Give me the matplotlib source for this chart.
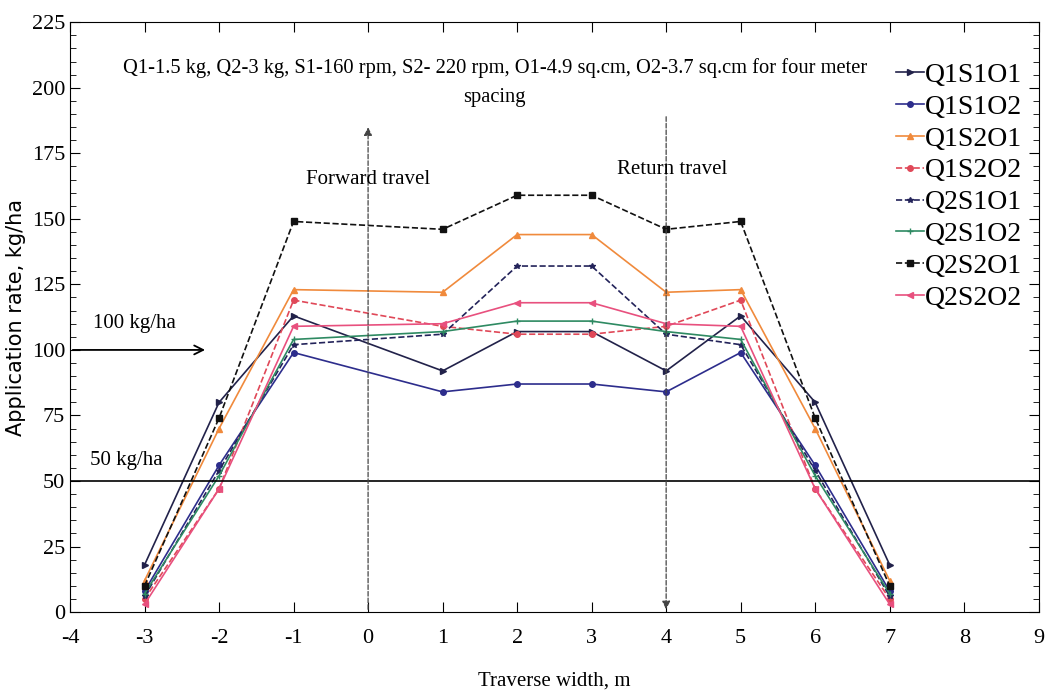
import matplotlib
matplotlib.use('Agg')
import matplotlib.pyplot as plt
from matplotlib.ticker import MultipleLocator

plt.rcParams['font.family'] = 'Liberation Serif'
plt.rcParams['axes.unicode_minus'] = False

# traverse positions (m) and application rate (kg/ha)
x = [-3, -2, -1, 1, 2, 3, 4, 5, 6, 7]
q1s1o1 = [18, 80, 113, 92, 107, 107, 92, 113, 80, 18]
q1s1o2 = [8, 56, 99, 84, 87, 87, 84, 99, 56, 8]
q1s2o1 = [12, 70, 123, 122, 144, 144, 122, 123, 70, 12]
q1s2o2 = [5, 47, 119, 109, 106, 106, 109, 119, 47, 5]
q2s1o1 = [6, 54, 102, 106, 132, 132, 106, 102, 54, 6]
q2s1o2 = [7, 52, 104, 107, 111, 111, 107, 104, 52, 7]
q2s2o1 = [10, 74, 149, 146, 159, 159, 146, 149, 74, 10]
q2s2o2 = [3, 47, 109, 110, 118, 118, 110, 109, 47, 3]

names = ['Q1S1O1', 'Q1S1O2', 'Q1S2O1', 'Q1S2O2',
         'Q2S1O1', 'Q2S1O2', 'Q2S2O1', 'Q2S2O2']
series = [q1s1o1, q1s1o2, q1s2o1, q1s2o2, q2s1o1, q2s1o2, q2s2o1, q2s2o2]
colors = ['#22224a', '#2d2d8c', '#f08a3c', '#e04858',
          '#23235a', '#2e8a62', '#111111', '#e8507e']
styles = ['-', '-', '-', '--', '--', '-', '--', '-']
markers = ['>', 'o', '^', 'o', '*', '+', 's', '<']

fig = plt.figure(figsize=(10.45, 6.94), dpi=100)
ax = fig.add_axes([0.067, 0.118, 0.927, 0.850])

for vals, name, c, ls, mk in zip(series, names, colors, styles, markers):
    ax.plot(x, vals, linestyle=ls, color=c, marker=mk, markersize=4,
            linewidth=1.2, label=name)

# 50 kg/ha reference line
ax.axhline(50, color='black', linewidth=1.2)

# forward / return travel arrows
ax.annotate('', xy=(0, 186), xytext=(0, 0),
            arrowprops=dict(arrowstyle='-|>', linestyle='--', color='#444444',
                            linewidth=0.9, mutation_scale=12))
ax.annotate('', xy=(4, 0), xytext=(4, 190),
            arrowprops=dict(arrowstyle='-|>', linestyle='--', color='#444444',
                            linewidth=0.9, mutation_scale=12))
ax.text(0, 165, 'Forward travel', ha='center', va='center', fontsize=15)
ax.text(4.08, 169, 'Return travel', ha='center', va='center', fontsize=15)

ax.annotate('', xy=(-2.15, 100), xytext=(-4, 100),
            arrowprops=dict(arrowstyle='->', color='black', linewidth=1.3,
                            mutation_scale=16))
ax.text(-3.69, 110, '100 kg/ha', ha='left', va='center', fontsize=15)
ax.text(-3.73, 58, '50 kg/ha', ha='left', va='center', fontsize=15)

ax.text(1.7, 202, 'Q1-1.5 kg, Q2-3 kg, S1-160 rpm, S2- 220 rpm, O1-4.9 sq.cm, '
        'O2-3.7 sq.cm for four meter\nspacing',
        ha='center', va='center', fontsize=14.8, linespacing=1.75)

ax.set_xlim(-4, 9)
ax.set_ylim(0, 225)
ax.xaxis.set_major_locator(MultipleLocator(1))
ax.yaxis.set_major_locator(MultipleLocator(25))
ax.yaxis.set_minor_locator(MultipleLocator(5))
ax.tick_params(axis='both', direction='in', labelsize=16, length=7)
ax.tick_params(axis='x', pad=12, top=True)
ax.tick_params(axis='y', which='both', right=True)
ax.tick_params(axis='y', which='minor', direction='in', length=4)

ax.set_xlabel('Traverse width, m', fontsize=15, labelpad=17)
ax.set_ylabel('Application rate, kg/ha', fontsize=15, family='DejaVu Sans')

ax.legend(loc='upper right', frameon=False, fontsize=20, handlelength=1.0,
          handletextpad=0.05, labelspacing=0.23, borderaxespad=0.2,
          bbox_to_anchor=(1.0, 0.96))

fig.savefig('out.png', dpi=100)
